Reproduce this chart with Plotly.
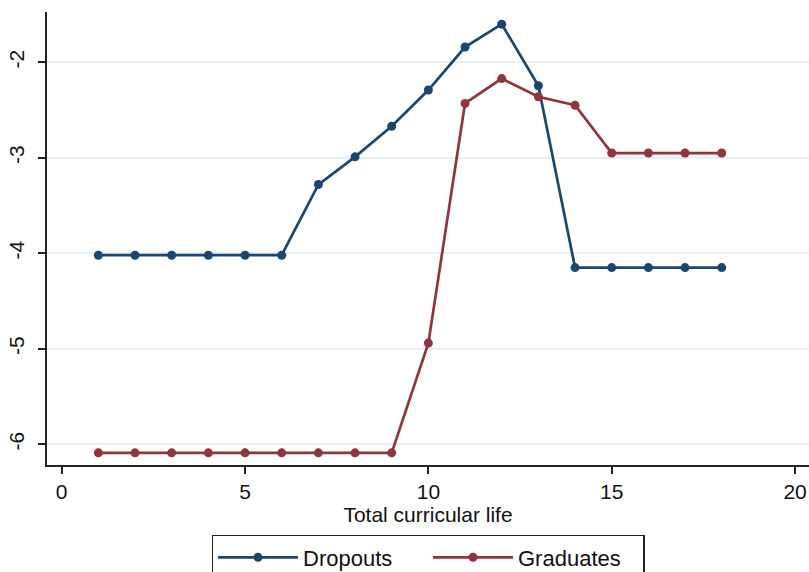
import plotly.graph_objects as go

# Data
curricular_life = list(range(1, 19))
dropouts = [-4.02, -4.02, -4.02, -4.02, -4.02, -4.02, -3.28, -2.99, -2.67, -2.29,
            -1.84, -1.60, -2.245, -4.15, -4.15, -4.15, -4.15, -4.15]
graduates = [-6.09, -6.09, -6.09, -6.09, -6.09, -6.09, -6.09, -6.09, -6.09, -4.94,
             -2.43, -2.17, -2.36, -2.45, -2.95, -2.95, -2.95, -2.95]

x_ticks = [0, 5, 10, 15, 20]
y_ticks = [-6, -5, -4, -3, -2]

NAVY = "#1a476f"
MAROON = "#90353b"
FONT = "Liberation Sans, Arial, sans-serif"

fig = go.Figure()
fig.add_trace(go.Scatter(
    x=curricular_life, y=dropouts, name="Dropouts", mode="lines+markers",
    line=dict(color=NAVY, width=2.7),
    marker=dict(color=NAVY, size=9, symbol="circle"),
))
fig.add_trace(go.Scatter(
    x=curricular_life, y=graduates, name="Graduates", mode="lines+markers",
    line=dict(color=MAROON, width=2.7),
    marker=dict(color=MAROON, size=9, symbol="circle"),
))

fig.update_layout(
    width=809, height=572,
    margin=dict(l=47, r=0, t=12, b=107, autoexpand=False),
    paper_bgcolor="white", plot_bgcolor="white",
    font=dict(family=FONT, size=20, color="#111111"),
    showlegend=True,
    legend=dict(
        orientation="h", x=0.5, xanchor="center",
        yref="container", y=0.0647, yanchor="top",
        bordercolor="#222222", borderwidth=1.5, bgcolor="white",
        font=dict(size=22), entrywidth=120, itemwidth=80,
    ),
    xaxis=dict(
        range=[-0.4, 20.38], tickvals=x_ticks, ticktext=[str(v) for v in x_ticks],
        showgrid=False, zeroline=False, automargin=False,
        showline=True, linecolor="#222222", linewidth=1.5,
        ticks="outside", ticklen=7, tickwidth=1.5, tickcolor="#222222",
        tickfont=dict(size=21),
        title=dict(text="Total curricular life", font=dict(size=21), standoff=0),
    ),
    yaxis=dict(
        range=[-6.217, -1.473], tickvals=y_ticks, ticktext=[str(v) for v in y_ticks],
        showgrid=True, gridcolor="#e6eff1", gridwidth=1.5, zeroline=False,
        automargin=False,
        showline=True, linecolor="#222222", linewidth=1.5,
        ticks="outside", ticklen=7, tickwidth=1.5, tickcolor="#222222",
        tickangle=-90, tickfont=dict(size=21), ticklabelstandoff=6,
    ),
)

fig.write_html(
    "out.html",
    config={"displayModeBar": False},
    post_script="document.body.style.margin='0';document.body.style.overflow='hidden';",
)
